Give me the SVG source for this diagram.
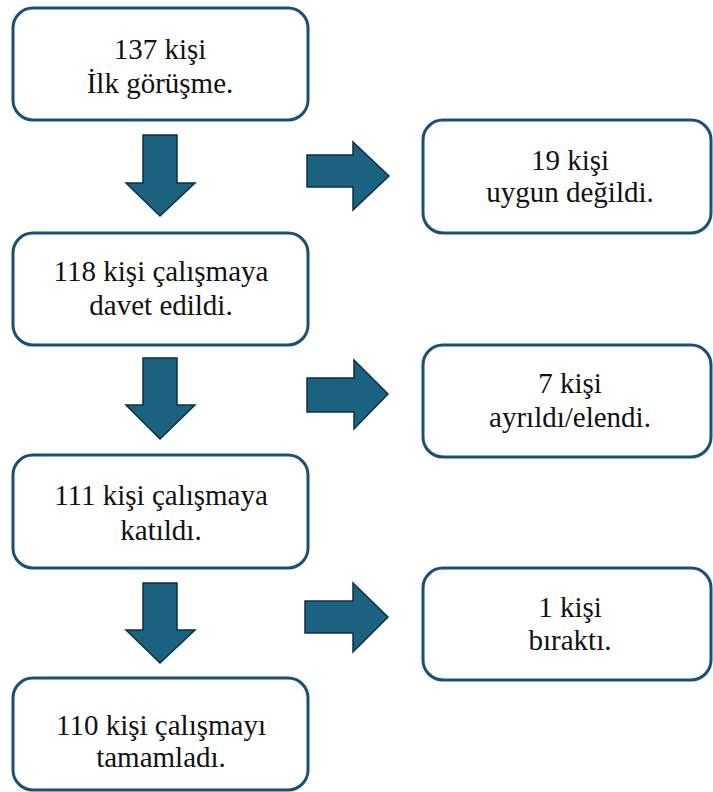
<svg xmlns="http://www.w3.org/2000/svg" width="713" height="792" viewBox="0 0 713 792">
<style>
.box{fill:#fff;stroke:#1c4f75;stroke-width:3}
.arr{fill:#1b6180;stroke:#0e2f40;stroke-width:1.5;stroke-linejoin:miter}
.t{font-family:'Liberation Serif','Times New Roman',Tinos,'DejaVu Serif',serif;font-size:29px;fill:#111;text-anchor:middle}
</style>
<rect width="713" height="792" fill="#fff"/>
<g id="connectors">
<polygon class="arr" points="143,135 177,135 177,183 195,183 160,216 126,183 143,183"/>
<polygon class="arr" points="143,358 177,358 177,405 195,405 160,439 126,405 143,405"/>
<polygon class="arr" points="143,583 177,583 177,630 195,630 160,663 126,630 143,630"/>
<polygon class="arr" points="307,155 353,155 353,142 389,176 353,210 353,187 307,187"/>
<polygon class="arr" points="307,378 354,378 354,360 388,394 354,429 354,412 307,412"/>
<polygon class="arr" points="305,601 353,601 353,583 388,617 353,652 353,633 305,633"/>
</g>
<g id="n1"><rect class="box" x="13" y="8" width="295" height="112" rx="20"/><text class="t" font-family="Liberation Serif, serif" x="160" y="59">137 kişi</text><text class="t" font-family="Liberation Serif, serif" x="160" y="93">İlk görüşme.</text></g>
<g id="n2"><rect class="box" x="13" y="233" width="295" height="112" rx="20"/><text class="t" font-family="Liberation Serif, serif" x="161" y="281">118 kişi çalışmaya</text><text class="t" font-family="Liberation Serif, serif" x="161" y="315">davet edildi.</text></g>
<g id="n3"><rect class="box" x="13" y="455" width="295" height="113" rx="20"/><text class="t" font-family="Liberation Serif, serif" x="161" y="505">111 kişi çalışmaya</text><text class="t" font-family="Liberation Serif, serif" x="161" y="540">katıldı.</text></g>
<g id="n4"><rect class="box" x="13" y="678" width="295" height="112" rx="20"/><text class="t" font-family="Liberation Serif, serif" x="161" y="735">110 kişi çalışmayı</text><text class="t" font-family="Liberation Serif, serif" x="161" y="767">tamamladı.</text></g>
<g id="r1"><rect class="box" x="423" y="120" width="288" height="113" rx="20"/><text class="t" font-family="Liberation Serif, serif" x="570" y="170">19 kişi</text><text class="t" font-family="Liberation Serif, serif" x="570" y="202">uygun değildi.</text></g>
<g id="r2"><rect class="box" x="423" y="345" width="288" height="112" rx="20"/><text class="t" font-family="Liberation Serif, serif" x="570" y="393">7 kişi</text><text class="t" font-family="Liberation Serif, serif" x="570" y="427">ayrıldı/elendi.</text></g>
<g id="r3"><rect class="box" x="423" y="568" width="288" height="112" rx="20"/><text class="t" font-family="Liberation Serif, serif" x="570" y="617">1 kişi</text><text class="t" font-family="Liberation Serif, serif" x="570" y="650">bıraktı.</text></g>
</svg>
